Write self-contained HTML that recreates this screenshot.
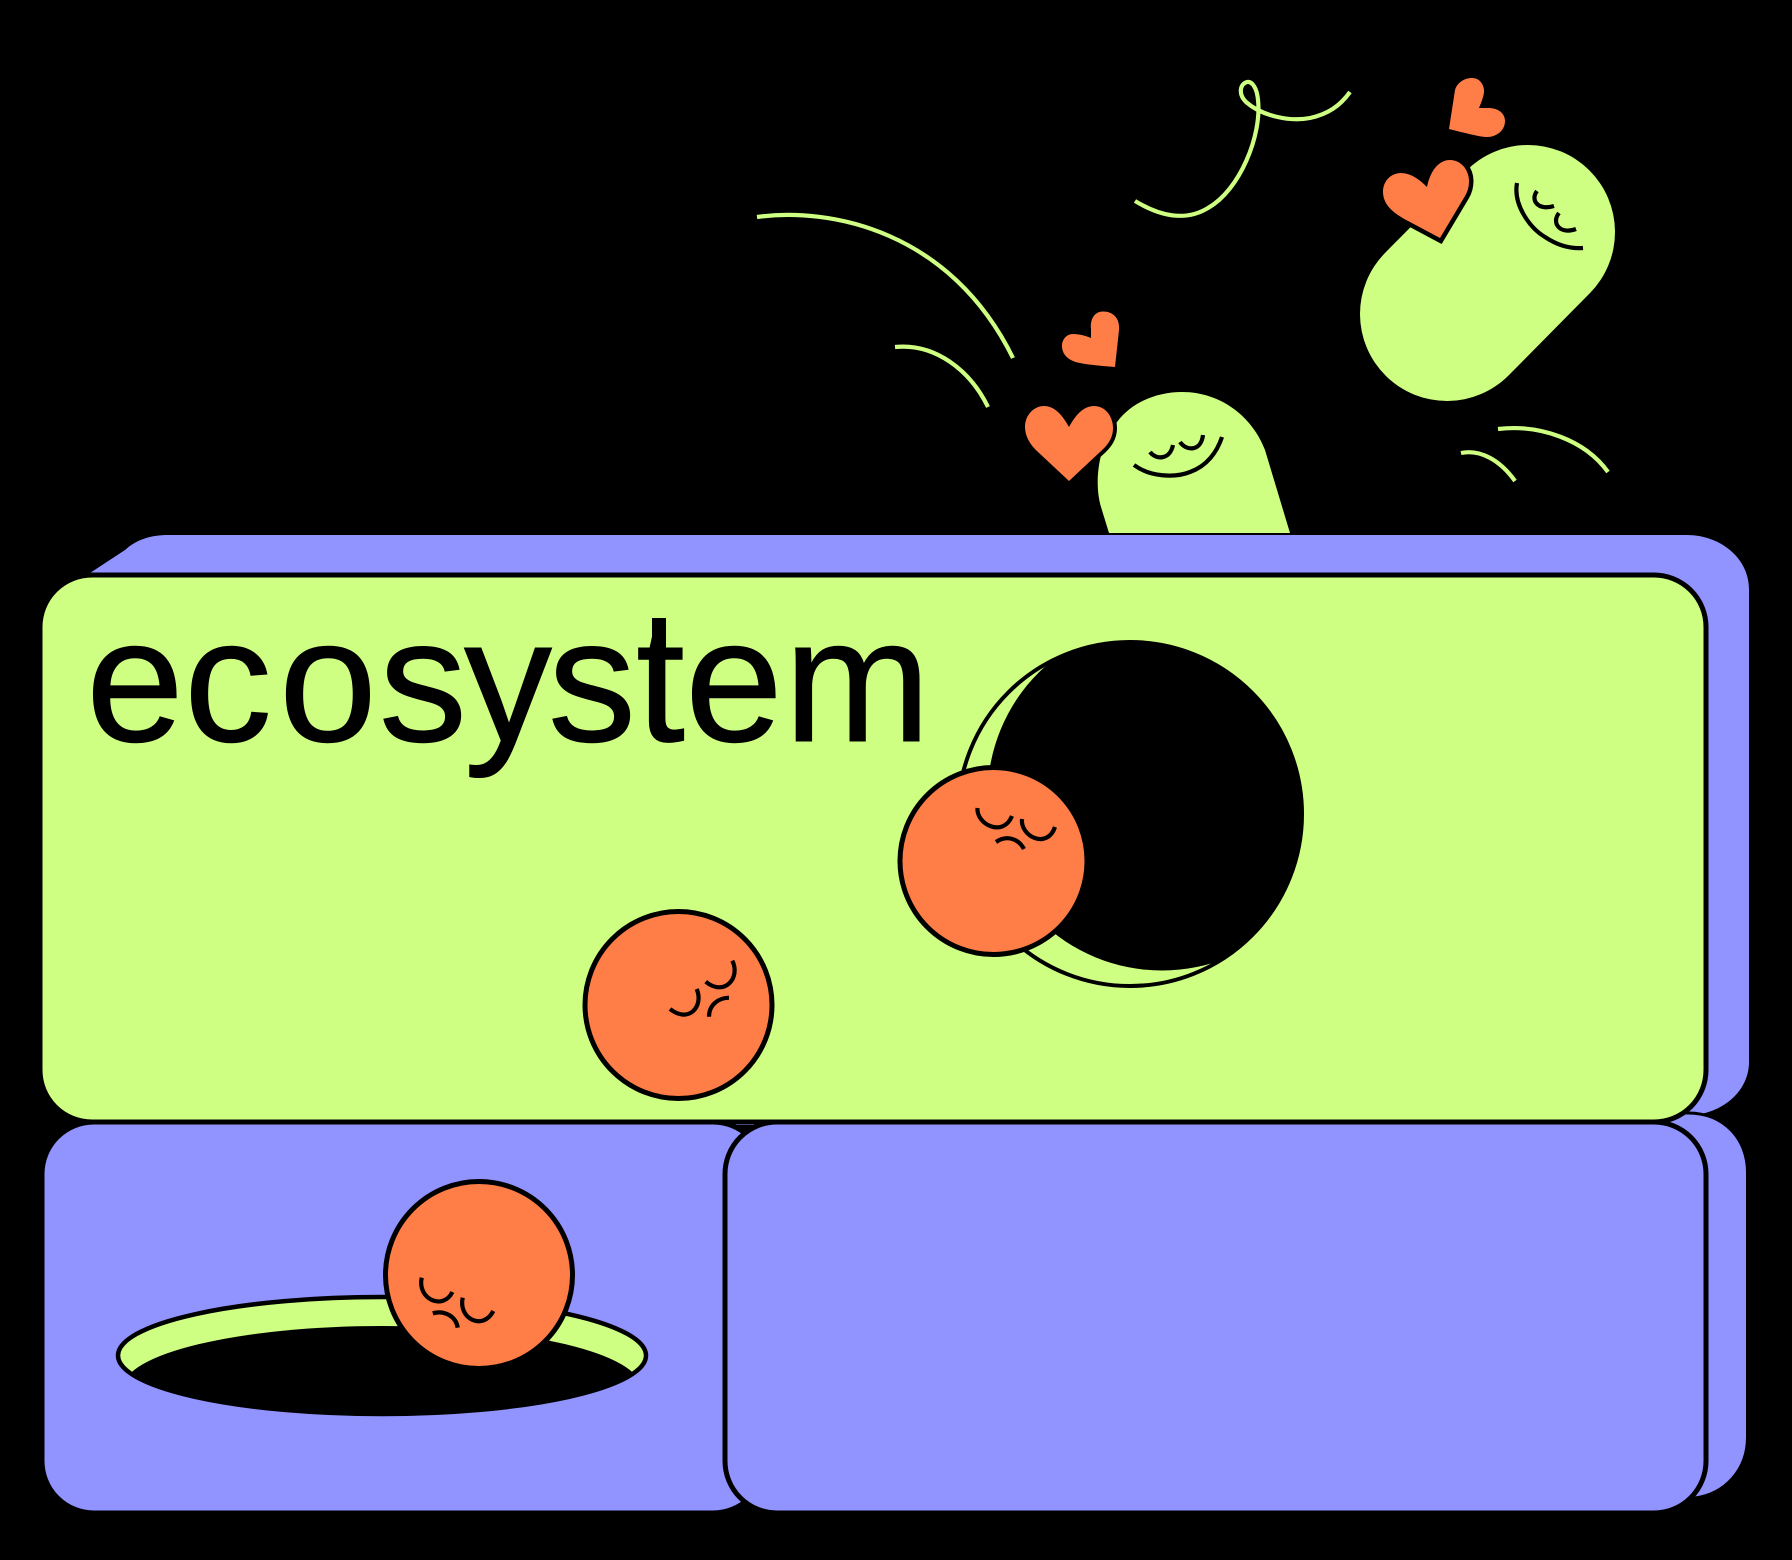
<!DOCTYPE html>
<html><head><meta charset="utf-8"><style>html,body{margin:0;padding:0;background:#000}svg{display:block}</style></head><body>
<svg xmlns="http://www.w3.org/2000/svg" width="1792" height="1560" viewBox="0 0 1792 1560">
<defs>
<clipPath id="c1"><circle cx="1130" cy="814" r="172"/></clipPath>
<clipPath id="c2"><ellipse cx="382" cy="1355.5" rx="264" ry="58.5"/></clipPath>
</defs>
<rect width="1792" height="1560" fill="#000"/>
<g fill="none" stroke="#CFFF82" stroke-width="4.2">
<path d="M757 217C830 207 950 230 1013 358"/>
<path d="M895 347C935 343 970 370 988 407"/>
<path d="M1135 201C1160 216 1185 222 1208 208C1240 190 1262 135 1258 100C1257 88 1252 81 1247 82C1240 84 1238 94 1246 102C1262 116 1290 122 1310 118C1328 114 1340 106 1350 92"/>
<path d="M1498 429C1540 424 1585 440 1608 472"/>
<path d="M1461 453C1480 449 1500 460 1515 481"/>
</g>
<line x1="1528" y1="232" x2="1447" y2="314" stroke="#CFFF82" stroke-width="174" stroke-linecap="round"/>
<path d="M1109 533L1101 507C1093 480 1100 442 1117 422C1132 402 1157 392 1182 392C1222 392 1253 418 1265 450L1290 533Z" fill="#CFFF82"/>
<g fill="#FF7D47">
<path d="M1115 367L1119 330C1120 318 1113 311.500 1103 311.500C1094 311.500 1090 320 1091 329L1091 338C1086 336 1080 334 1073 334C1066 334 1062 340 1062 346C1062 355 1069 361 1080 363C1090 365 1103 366 1115 367Z"/>
<path d="M1449 129L1455 90C1457 83 1464 78 1472 78C1480 78 1484 85 1484 91C1484 96 1481 103 1479 108L1488 108C1498 108 1505 113 1505 121C1505 131 1496 137 1487 137C1480 137 1465 133 1449 129Z"/>
<path d="M1069 481L1038 452C1030 445 1025 436 1025 427C1025 415 1034 406 1044 406C1055 406 1063 416 1069 427C1075 416 1083 406 1094 406C1105 406 1113 416 1113 428C1113 438 1108 445 1100 452Z" stroke="#000" stroke-width="8" paint-order="stroke"/>
<path d="M1440 238L1410 222C1392 213 1383 204 1383 192C1383 180 1392 173 1401 173C1411 173 1420 180 1427 187C1430 172 1438 160 1450 160C1461 160 1469 170 1469 181C1469 186 1468 191 1465 196Z" stroke="#000" stroke-width="9" paint-order="stroke"/>
</g>
<g fill="none" stroke="#000" stroke-width="4.200">
<path d="M1134 465C1150 477 1175 478 1190 472C1207 466 1217 452 1222 437"/>
<path d="M1150 452C1156 460 1170 460 1173 445"/>
<path d="M1180 442C1186 451 1201 452 1203 435"/>
<path d="M1517 183C1513 205 1530 228 1545 237C1557 245 1570 249 1583 248"/>
<path d="M1537 191C1530 200 1538 211 1554 206"/>
<path d="M1559 213C1551 223 1560 235 1576 229"/>
</g>
<path d="M90 573L125 550C136 540 150 535 168 535L1687 535C1720 535 1749 558 1749 589L1749 1062C1749 1090 1725 1110 1700 1114L1660 1125L90 1125Z" fill="#9193FF"/>
<path d="M1688 1113C1725 1113 1747.500 1140 1747.500 1172L1747.500 1437C1747.500 1470 1725 1494 1695 1498L1660 1498L1660 1113Z" fill="#9193FF" stroke="#000" stroke-width="3"/>
<rect x="40" y="575" width="1666" height="547" rx="52" ry="52" fill="#CFFF82" stroke="#000" stroke-width="5"/>
<text x="86 184 279 379 464 548 636 685 784" y="741" font-family="'Liberation Sans',sans-serif" font-size="176" fill="#000" stroke="#000" stroke-width="1">ecosystem</text>
<rect x="652" y="618" width="14" height="36" fill="#000"/>
<circle cx="1130" cy="814" r="172" fill="#CFFF82" stroke="#000" stroke-width="4"/>
<circle cx="1162" cy="796" r="174.500" fill="#000" clip-path="url(#c1)"/>
<circle cx="993.500" cy="861" r="93.500" fill="#FF7D47" stroke="#000" stroke-width="5"/>
<g fill="none" stroke="#000" stroke-width="4.200">
<path d="M977.500 808C976 824 1003 838 1012 816"/>
<path d="M1022 819C1020 836 1047 850 1055 827"/>
<path d="M996 842C1006 835 1018 838 1024 849"/>
</g>
<circle cx="678.500" cy="1005" r="93.500" fill="#FF7D47" stroke="#000" stroke-width="5"/>
<g fill="none" stroke="#000" stroke-width="4.200">
<path d="M732.300 960.700C741 978 724 997 705.700 981.700"/>
<path d="M696.700 989C704 1006 689 1024 670 1009"/>
<path d="M729 997.700C718 998 709 1005 709 1016.700"/>
</g>
<rect x="42" y="1122" width="723" height="391" rx="52" ry="52" fill="#9193FF" stroke="#000" stroke-width="5"/>
<rect x="725" y="1122" width="981" height="391" rx="52" ry="52" fill="#9193FF" stroke="#000" stroke-width="5"/>
<ellipse cx="382" cy="1355.500" rx="264" ry="58.500" fill="#CFFF82" stroke="#000" stroke-width="4.500"/>
<ellipse cx="382" cy="1388" rx="259" ry="62" fill="#000" clip-path="url(#c2)"/>
<circle cx="479" cy="1275" r="93.500" fill="#FF7D47" stroke="#000" stroke-width="5"/>
<g fill="none" stroke="#000" stroke-width="4.200">
<path d="M421.700 1277.700C417 1299 443 1311 452.400 1292"/>
<path d="M462.700 1297.700C458 1319 483 1331 493.300 1311"/>
<path d="M432.800 1313.300C444 1310 456 1316 457.700 1327.700"/>
</g>
</svg>
</body></html>
